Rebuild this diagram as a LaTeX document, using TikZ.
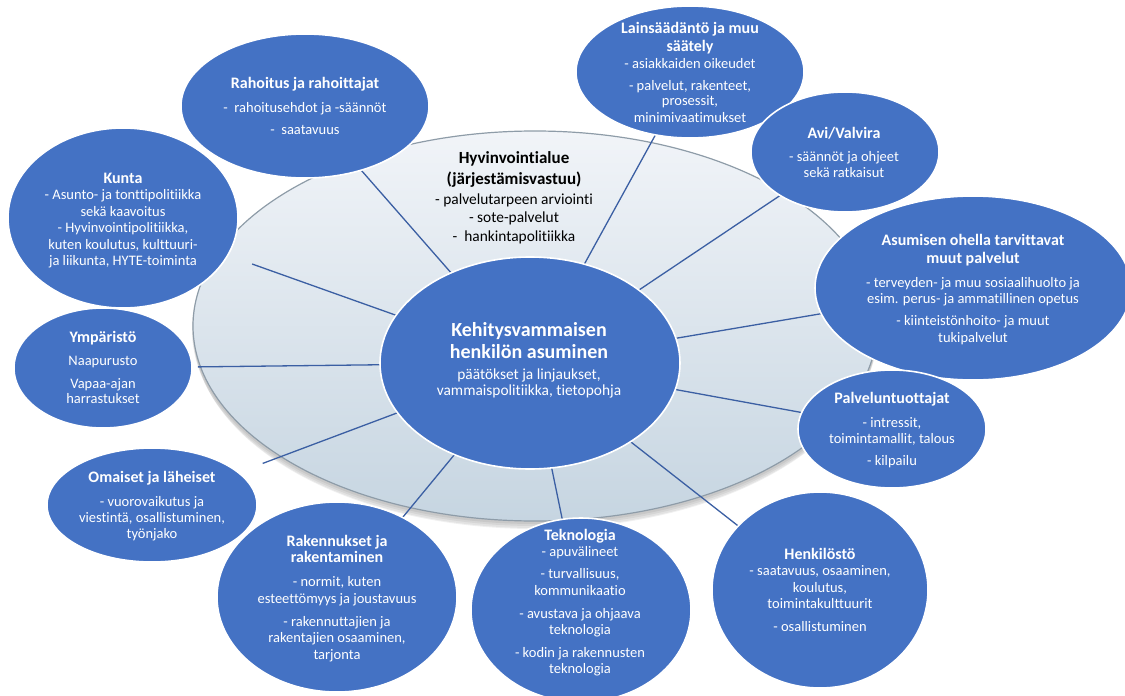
\documentclass[tikz,border=0pt]{standalone}
\usepackage{fontspec}
\setmainfont{Carlito}[Ligatures=NoCommon]
\usetikzlibrary{shapes.geometric}
\definecolor{bubcol}{HTML}{4472C4}
\definecolor{conncol}{HTML}{3B5FA3}
\definecolor{ringtop}{HTML}{F1F4F8}
\definecolor{ringbot}{HTML}{C6D5E1}
\definecolor{ringedge}{HTML}{8E9CA8}
\pgfdeclarelayer{bg}
\pgfdeclarelayer{lines}
\pgfsetlayers{bg,lines,main}
\newcommand\ttl[1]{{\fontsize{16}{16.5}\selectfont\bfseries #1}}
\newcommand\fl{\rule{0pt}{16pt}}
\begin{document}
\begin{tikzpicture}[x=1pt,y=-1pt,
  bubble/.style={ellipse, fill=bubcol, draw=white, line width=1.6pt, inner sep=0pt, outer sep=0pt},
  wtxt/.style={anchor=north, inner sep=0pt, outer sep=0pt, align=center, text=white, font=\fontsize{14.5}{16.5}\selectfont},
  conn/.style={draw=conncol, line width=1.3pt},
  ringshadow/.style={fill=black, opacity=0.06}
]
\useasboundingbox (0,0) rectangle (1125,696);

% ring with shadow
\begin{pgfonlayer}{bg}
  \fill[ringshadow] (535,328) ellipse [x radius=343, y radius=196];
  \fill[ringshadow] (535,330) ellipse [x radius=343, y radius=196];
  \fill[ringshadow] (535,332) ellipse [x radius=342, y radius=196];
  \fill[ringshadow] (535,334) ellipse [x radius=341, y radius=195];
  \node[ellipse, minimum width=684pt, minimum height=390pt, inner sep=0pt, outer sep=0pt,
        top color=ringtop, bottom color=ringbot, draw=ringedge, line width=1.2pt] (ring) at (535,326) {};
\end{pgfonlayer}

% bubbles
\node[bubble, minimum width=300pt, minimum height=212pt] (cen) at (530,363) {};
\node[bubble, minimum width=248pt, minimum height=144pt] (rah) at (305,106) {};
\node[bubble, minimum width=230pt, minimum height=180pt] (kun) at (123,218) {};
\node[bubble, minimum width=228pt, minimum height=132pt] (lai) at (690,72) {};
\node[bubble, minimum width=188pt, minimum height=120pt] (avi) at (845,152) {};
\node[bubble, minimum width=316pt, minimum height=184pt] (asu) at (973,288) {};
\node[bubble, minimum width=188pt, minimum height=118pt] (pal) at (892,429) {};
\node[bubble, minimum width=216pt, minimum height=196pt] (hen) at (820,590) {};
\node[bubble, minimum width=220pt, minimum height=184pt] (tek) at (581,610) {};
\node[bubble, minimum width=210pt, minimum height=114pt] (oma) at (152,505) {};
\node[bubble, minimum width=240pt, minimum height=190pt] (rak) at (337,597) {};
\node[bubble, minimum width=178pt, minimum height=120pt] (ymp) at (103,368) {};

% connectors
\begin{pgfonlayer}{lines}
  \draw[conn] (cen) -- (rah);
  \draw[conn] (cen) -- (lai);
  \draw[conn] (cen) -- (avi);
  \draw[conn] (cen) -- (asu);
  \draw[conn] (cen) -- (pal);
  \draw[conn] (cen) -- (hen);
  \draw[conn] (cen) -- (tek);
  \draw[conn] (cen) -- (rak);
  \draw[conn, shorten >=26pt] (cen) -- (oma);
  \draw[conn, shorten >=6pt] (cen) -- (ymp);
  \draw[conn, shorten >=26pt] (cen) -- (kun);
\end{pgfonlayer}

% texts
\node[anchor=north, inner sep=0pt, outer sep=0pt, align=center, text=black, font=\fontsize{15.4}{19}\selectfont] (hyvT) at (514,147)
  {\fl\textbf{\fontsize{17}{19}\selectfont Hyvinvointialue}\\[2pt]
   \textbf{\fontsize{17}{19}\selectfont (järjestämisvastuu)}\\[1pt]
   - palvelutarpeen arviointi\\[-1pt]
   - sote-palvelut\\
   -\hspace{.45em}hankintapolitiikka};

\node[wtxt, font=\fontsize{20}{22}\selectfont\bfseries] (cenT) at (529,320)
  {\fl Kehitysvammaisen\\ henkilön asuminen};
\node[wtxt, font=\fontsize{15.4}{16}\selectfont] (cenS) at (529,363)
  {\fl päätökset ja linjaukset,\\ vammaispolitiikka, tietopohja};

\node[wtxt] (rahT) at (305,72)
  {\fl\ttl{Rahoitus ja rahoittajat}\\[7.5pt]
   -\hspace{.45em}rahoitusehdot ja -säännöt\\[5.5pt]
   -\hspace{.45em}saatavuus};

\node[wtxt] (kunT) at (123,167)
  {\fl\ttl{Kunta}\\
   - Asunto- ja tonttipolitiikka\\
   sekä kaavoitus\\
   - Hyvinvointipolitiikka,\\
   kuten koulutus, kulttuuri-\\
   ja liikunta, HYTE-toiminta};

\node[wtxt] (laiT) at (690,17)
  {\fl\ttl{Lainsäädäntö ja muu}\\[1.5pt]
   \ttl{säätely}\\[0.5pt]
   - asiakkaiden oikeudet\\[5.5pt]
   - palvelut, rakenteet,\\[-1pt]
   prosessit,\\
   minimivaatimukset};

\node[wtxt] (aviT) at (844,122)
  {\fl\ttl{Avi/Valvira}\\[6.5pt]
   - säännöt ja ohjeet\\
   sekä ratkaisut};

\node[wtxt] (asuT) at (973,229)
  {\fl\ttl{Asumisen ohella tarvittavat}\\[1.5pt]
   \ttl{muut palvelut}\\[7.5pt]
   - terveyden- ja muu sosiaalihuolto ja\\
   esim. perus- ja ammatillinen opetus\\[5.5pt]
   - kiinteistönhoito- ja muut\\
   tukipalvelut};

\node[wtxt] (palT) at (892,387)
  {\fl\ttl{Palveluntuottajat}\\[7.5pt]
   - intressit,\\
   toimintamallit, talous\\[5.5pt]
   - kilpailu};

\node[wtxt] (henT) at (820,543)
  {\fl\ttl{Henkilöstö}\\
   - saatavuus, osaaminen,\\
   koulutus,\\
   toimintakulttuurit\\[6.5pt]
   - osallistuminen};

\node[wtxt] (tekT) at (580,524)
  {\fl\ttl{Teknologia}\\
   - apuvälineet\\[5.5pt]
   - turvallisuus,\\
   kommunikaatio\\[6.5pt]
   - avustava ja ohjaava\\
   teknologia\\[6pt]
   - kodin ja rakennusten\\
   teknologia};

\node[wtxt] (omaT) at (152,466)
  {\fl\ttl{Omaiset ja läheiset}\\[7.5pt]
   - vuorovaikutus ja\\
   viestintä, osallistuminen,\\[-1pt]
   työnjako};

\node[wtxt] (rakT) at (337,530)
  {\fl\ttl{Rakennukset ja}\\
   \ttl{rakentaminen}\\[7.5pt]
   - normit, kuten\\
   esteettömyys ja joustavuus\\[6.5pt]
   - rakennuttajien ja\\
   rakentajien osaaminen,\\
   tarjonta};

\node[wtxt] (ympT) at (103,326)
  {\fl\ttl{Ympäristö}\\[6.5pt]
   Naapurusto\\[6.5pt]
   Vapaa-ajan\\[-1.5pt]
   harrastukset};
\end{tikzpicture}
\end{document}
